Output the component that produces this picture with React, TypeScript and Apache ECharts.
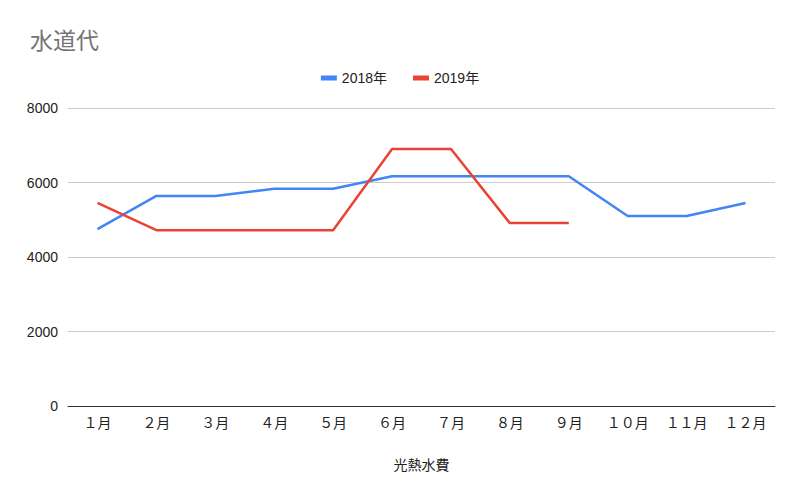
import { useEffect, useRef } from 'react';
import * as echarts from 'echarts';

const months = ['１月', '２月', '３月', '４月', '５月', '６月', '７月', '８月', '９月', '１０月', '１１月', '１２月'];
const water2018 = [4750, 5640, 5640, 5830, 5830, 6170, 6170, 6170, 6170, 5100, 5100, 5450];
const water2019 = [5450, 4720, 4720, 4720, 4720, 6900, 6900, 4910, 4910, null, null, null];
const seriesNames = ['2018年', '2019年'];
const seriesColors = ['#4285F4', '#EA4335'];

const font = '"Liberation Sans", Arial, "Noto Sans CJK JP", sans-serif';

export default function App() {
  const ref = useRef<HTMLDivElement | null>(null);
  useEffect(() => {
    document.body.style.margin = '0';
    if (!ref.current) return;
    const chart = echarts.init(ref.current, undefined, { renderer: 'svg' });
    chart.setOption({
      animation: false,
      backgroundColor: '#ffffff',
      textStyle: { fontFamily: font },
      title: {
        text: '水道代',
        left: 25,
        top: 24,
        textStyle: { fontSize: 23, fontWeight: 'normal', color: '#757575', fontFamily: font },
      },
      legend: {
        top: 66,
        left: 'center',
        itemWidth: 16,
        itemHeight: 5,
        itemGap: 26,
        icon: 'rect',
        textStyle: { fontSize: 14, color: '#222', fontFamily: font },
        data: seriesNames,
      },
      grid: { left: 68, right: 25, top: 108, bottom: 89, containLabel: false },
      xAxis: {
        type: 'category',
        data: months,
        boundaryGap: true,
        name: '光熱水費',
        nameLocation: 'middle',
        nameGap: 52,
        nameTextStyle: { fontSize: 14, color: '#222', fontFamily: font },
        axisLine: { lineStyle: { color: '#333', width: 1 } },
        axisTick: { show: false },
        axisLabel: { fontSize: 14, color: '#222', margin: 10, fontFamily: font },
      },
      yAxis: {
        type: 'value',
        min: 0,
        max: 8000,
        interval: 2000,
        axisLine: { show: false },
        axisTick: { show: false },
        axisLabel: { fontSize: 14, color: '#222', margin: 10, fontFamily: font, formatter: (v: number) => String(v) },
        splitLine: { lineStyle: { color: '#cccccc', width: 1 } },
      },
      series: [
        {
          name: seriesNames[0],
          type: 'line',
          data: water2018,
          showSymbol: false,
          symbol: 'none',
          lineStyle: { width: 2.5, color: seriesColors[0] },
          itemStyle: { color: seriesColors[0] },
        },
        {
          name: seriesNames[1],
          type: 'line',
          data: water2019,
          showSymbol: false,
          symbol: 'none',
          lineStyle: { width: 2.5, color: seriesColors[1] },
          itemStyle: { color: seriesColors[1] },
        },
      ],
    });
    return () => chart.dispose();
  }, []);
  return <div ref={ref} style={{ width: 800, height: 495 }} />;
}
